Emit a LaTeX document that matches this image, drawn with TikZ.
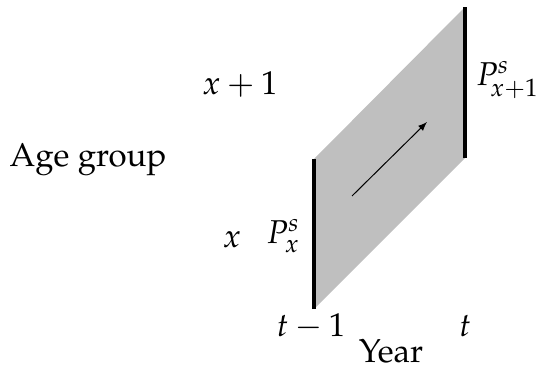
\documentclass[tikz,border=0pt]{standalone}
\usepackage[T1]{fontenc}
\usepackage{mathpazo}
\usetikzlibrary{arrows.meta}
\begin{document}
\begin{tikzpicture}[x=1pt,y=-1pt,
  lbl/.style={inner sep=0pt,font=\fontsize{33}{40}\selectfont},
  bar/.style={line width=3.4pt},
  flow/.style={line width=1pt,-{Latex[length=9pt,width=7pt]}}]
\useasboundingbox (0,0) rectangle (539,372);
\coordinate (bl) at (314,309);
\coordinate (tl) at (314,159);
\coordinate (tr) at (465,7);
\coordinate (br) at (465,158);
\fill[black!25] (bl) -- (tl) -- (tr) -- (br) -- cycle;
\draw[bar] (bl) -- (tl);
\draw[bar] (br) -- (tr);
\coordinate (a0) at (352,196);
\coordinate (a1) at (427,122);
\draw[flow] (a0) -- (a1);
\node[lbl] (xp1) at (240,84) {$x+1$};
\node[lbl] (age) at (88,160) {Age group};
\node[lbl] (xl) at (232,240) {$x$};
\node[lbl] (px) at (283,236) {$P^s_x$};
\node[lbl,anchor=west] (px1) at (476,80) {$P^s_{\!x+1}$};
\node[lbl] (t1) at (311,326) {$t-1$};
\node[lbl] (t) at (465,326) {$t$};
\node[lbl] (year) at (391,351) {Year};
\end{tikzpicture}
\end{document}
